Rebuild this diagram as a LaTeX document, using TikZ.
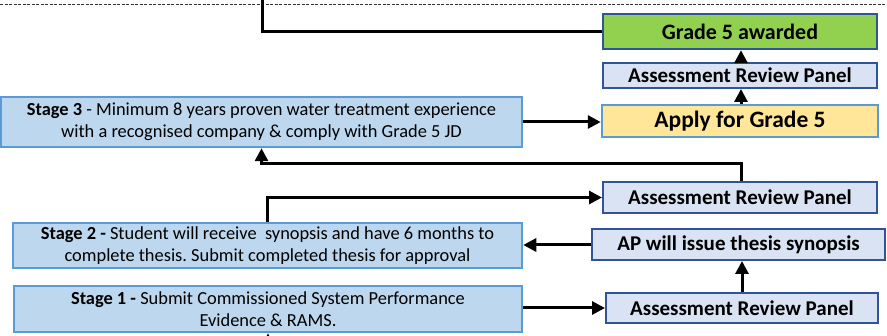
\documentclass[tikz,border=0pt]{standalone}
\usepackage{fontspec}
\setmainfont{Carlito}
\usetikzlibrary{arrows.meta}
\frenchspacing
\definecolor{stagefill}{HTML}{BDD7EE}
\definecolor{stageline}{HTML}{5B9BD5}
\definecolor{panelfill}{HTML}{DAE3F3}
\definecolor{panelline}{HTML}{2F5597}
\definecolor{greenfill}{HTML}{92D050}
\definecolor{yellowfill}{HTML}{FFE699}
\tikzset{
  box/.style={rectangle, inner sep=0pt, align=center, text=black},
  stagebox/.style={box, fill=stagefill, draw=stageline, line width=2.5pt, font=\fontsize{18.4}{22.5}\selectfont},
  panelbox/.style={box, fill=panelfill, draw=panelline, line width=2pt, font=\bfseries\fontsize{21}{24}\selectfont},
  awardbox/.style={box, fill=greenfill, draw=panelline, line width=2.5pt, font=\bfseries\fontsize{22}{26}\selectfont},
  applybox/.style={box, fill=yellowfill, draw=stageline, line width=2.5pt, font=\bfseries\fontsize{23.5}{27}\selectfont},
  conn/.style={line width=3pt, black},
  arr/.style={conn, -{Triangle[length=13pt,width=13pt]}},
}
\begin{document}
\begin{tikzpicture}[x=1pt,y=-1pt]
\useasboundingbox (0,0) rectangle (887,336);
\draw[line width=1pt, dash pattern=on 3pt off 1.5pt, black!80] (0,5) -- (887,5);
% right column
\node[awardbox, minimum width=274pt, minimum height=35pt] (g5) at (740,31.5) {Grade 5 awarded};
\node[panelbox, minimum width=274pt, minimum height=25pt] (arp3) at (740,75.5) {Assessment Review Panel};
\node[applybox, minimum width=276pt, minimum height=32pt] (apply) at (740,121) {Apply for Grade 5};
\node[panelbox, minimum width=274pt, minimum height=31pt] (arp2) at (740,197.5) {Assessment Review Panel};
\node[panelbox, minimum width=293pt, minimum height=31pt] (ap) at (738.5,244.5) {AP will issue thesis synopsis};
\node[panelbox, minimum width=272pt, minimum height=30pt] (arp1) at (742,308) {Assessment Review Panel};
% left column
\node[stagebox, minimum width=521pt, minimum height=50pt] (s3) at (261.5,122)
  {\textbf{Stage 3} - Minimum 8 years proven water treatment experience\\with a recognised company \& comply with Grade 5 JD};
\node[stagebox, minimum width=509pt, minimum height=45pt] (s2) at (267.5,245.5)
  {\textbf{Stage 2 -} Student will receive\ \ synopsis and have 6 months to\\complete thesis. Submit completed thesis for approval};
\node[stagebox, minimum width=508pt, minimum height=46pt] (s1) at (268,309)
  {\textbf{Stage 1 -} Submit Commissioned System Performance\\Evidence \& RAMS.};
% free ends
\coordinate (topin) at (262,0);
\coordinate (botin) at (268,336);
\coordinate (s3bend) at (741,164);
% connectors
\draw[conn] (topin) |- (g5.west);
\draw[arr] (apply.north -| 741,0) -- (arp3.south -| 741,0);
\draw[arr] (arp3.north -| 741,0) -- (g5.south -| 741,0);
\draw[arr] (s3.east |- 0,122) -- (apply.west |- 0,122);
\draw[arr] (arp2.north -| 741,0) -- (s3bend) -| (s3.south);
\draw[arr] (s2.north) |- (arp2.west);
\draw[arr] (ap.west |- 0,245) -- (s2.east |- 0,245);
\draw[arr] (arp1.north -| 742,0) -- (ap.south -| 742,0);
\draw[arr] (s1.east |- 0,308) -- (arp1.west |- 0,308);
\draw[arr] (botin) -- (s1.south);
\end{tikzpicture}
\end{document}
